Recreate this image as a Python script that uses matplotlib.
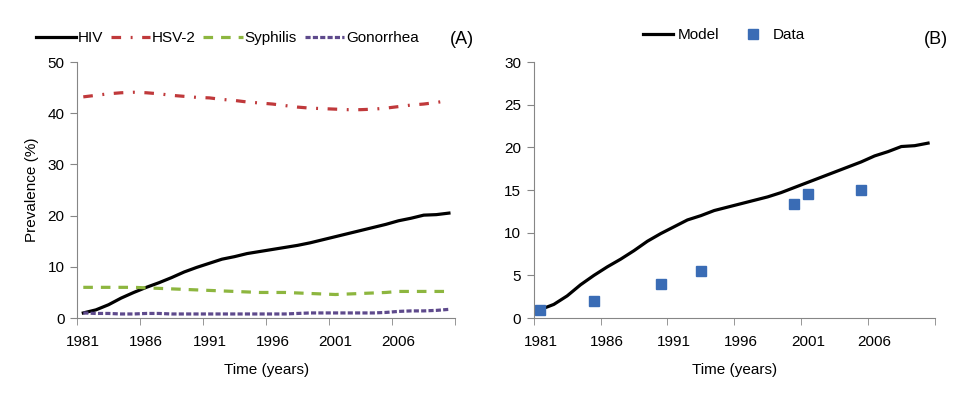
import numpy as np
import matplotlib
matplotlib.use('Agg')
import matplotlib.pyplot as plt

plt.rcParams['font.family'] = ['Liberation Sans', 'DejaVu Sans']

# Data
years = list(range(1981, 2011))
hiv = [1.0, 1.6, 2.6, 3.9, 5.0, 6.0, 6.9, 7.9, 9.0, 9.9,
       10.7, 11.5, 12.0, 12.6, 13.0, 13.4, 13.8, 14.2, 14.7, 15.3,
       15.9, 16.5, 17.1, 17.7, 18.3, 19.0, 19.5, 20.1, 20.2, 20.5]
hsv2 = [43.2, 43.5, 43.8, 44.0, 44.1, 44.0, 43.8, 43.5, 43.3, 43.1,
        43.0, 42.7, 42.5, 42.2, 42.0, 41.8, 41.5, 41.2, 41.0, 40.9,
        40.8, 40.7, 40.7, 40.8, 41.0, 41.3, 41.6, 41.8, 42.1, 42.5]
syphilis = [6.0, 6.0, 6.0, 6.0, 6.0, 5.9, 5.8, 5.7, 5.6, 5.5,
            5.4, 5.3, 5.2, 5.1, 5.0, 5.0, 5.0, 4.9, 4.8, 4.7,
            4.6, 4.7, 4.8, 4.9, 5.0, 5.2, 5.2, 5.2, 5.2, 5.2]
gonorrhea = [1.0, 0.9, 0.9, 0.8, 0.8, 0.9, 0.9, 0.8, 0.8, 0.8,
             0.8, 0.8, 0.8, 0.8, 0.8, 0.8, 0.8, 0.9, 1.0, 1.0,
             1.0, 1.0, 1.0, 1.0, 1.1, 1.3, 1.4, 1.4, 1.5, 1.7]
data_years = [1981, 1985, 1990, 1993, 2000, 2001, 2005]
data_vals = [1.0, 2.0, 4.0, 5.5, 13.4, 14.5, 15.0]

tick_years = [1981, 1986, 1991, 1996, 2001, 2006]

fig = plt.figure(figsize=(9.6, 4.12), dpi=100)
axA = fig.add_axes([0.0802, 0.228, 0.394, 0.6214])
axB = fig.add_axes([0.556, 0.228, 0.4177, 0.6214])

lw = 2.3
axA.plot(years, hiv, color='black', lw=lw, label='HIV')
axA.plot(years, hsv2, color='#C0393B', lw=lw, dashes=(3, 3, 0.6, 3), label='HSV-2')
axA.plot(years, syphilis, color='#8DB63F', lw=lw, dashes=(3, 2.5), label='Syphilis')
axA.plot(years, gonorrhea, color='#5E4A8C', lw=lw, dashes=(1.6, 0.7), label='Gonorrhea')

axB.plot(years, hiv, color='black', lw=lw, label='Model')
axB.plot(data_years, data_vals, ls='none', marker='s', ms=7, color='#3A6CB5', label='Data')

for ax, ymax, ystep in [(axA, 50, 10), (axB, 30, 5)]:
    ax.set_xlim(1980.5, 2010.5)
    ax.set_ylim(0, ymax)
    ax.set_yticks(np.arange(0, ymax + 1, ystep))
    ax.set_xticks(tick_years)
    ax.set_xticks(np.arange(1980.5, 2011, 5), minor=True)
    ax.tick_params(axis='x', which='major', length=0, pad=12, labelsize=11)
    ax.tick_params(axis='x', which='minor', length=5, color='#868686', direction='out')
    ax.tick_params(axis='y', length=5, color='#868686', labelsize=11, pad=4)
    for s in ['top', 'right']:
        ax.spines[s].set_visible(False)
    for s in ['left', 'bottom']:
        ax.spines[s].set_color('#868686')
    ax.set_xlabel('Time (years)', fontsize=11, labelpad=10)

axA.set_ylabel('Prevalence (%)', fontsize=11, labelpad=6)

axA.legend(loc='center', bbox_to_anchor=(0.237, 0.908), bbox_transform=fig.transFigure,
           ncol=4, frameon=False, fontsize=11, handlelength=2.6, handletextpad=0.1,
           columnspacing=0.5)
axB.legend(loc='center', bbox_to_anchor=(0.754, 0.915), bbox_transform=fig.transFigure,
           ncol=2, frameon=False, fontsize=11, handlelength=2.0, handletextpad=0.3,
           columnspacing=1.2)

fig.text(0.481, 0.903, '(A)', fontsize=13, ha='center', va='center')
fig.text(0.975, 0.903, '(B)', fontsize=13, ha='center', va='center')

fig.savefig('out.png', dpi=100)
